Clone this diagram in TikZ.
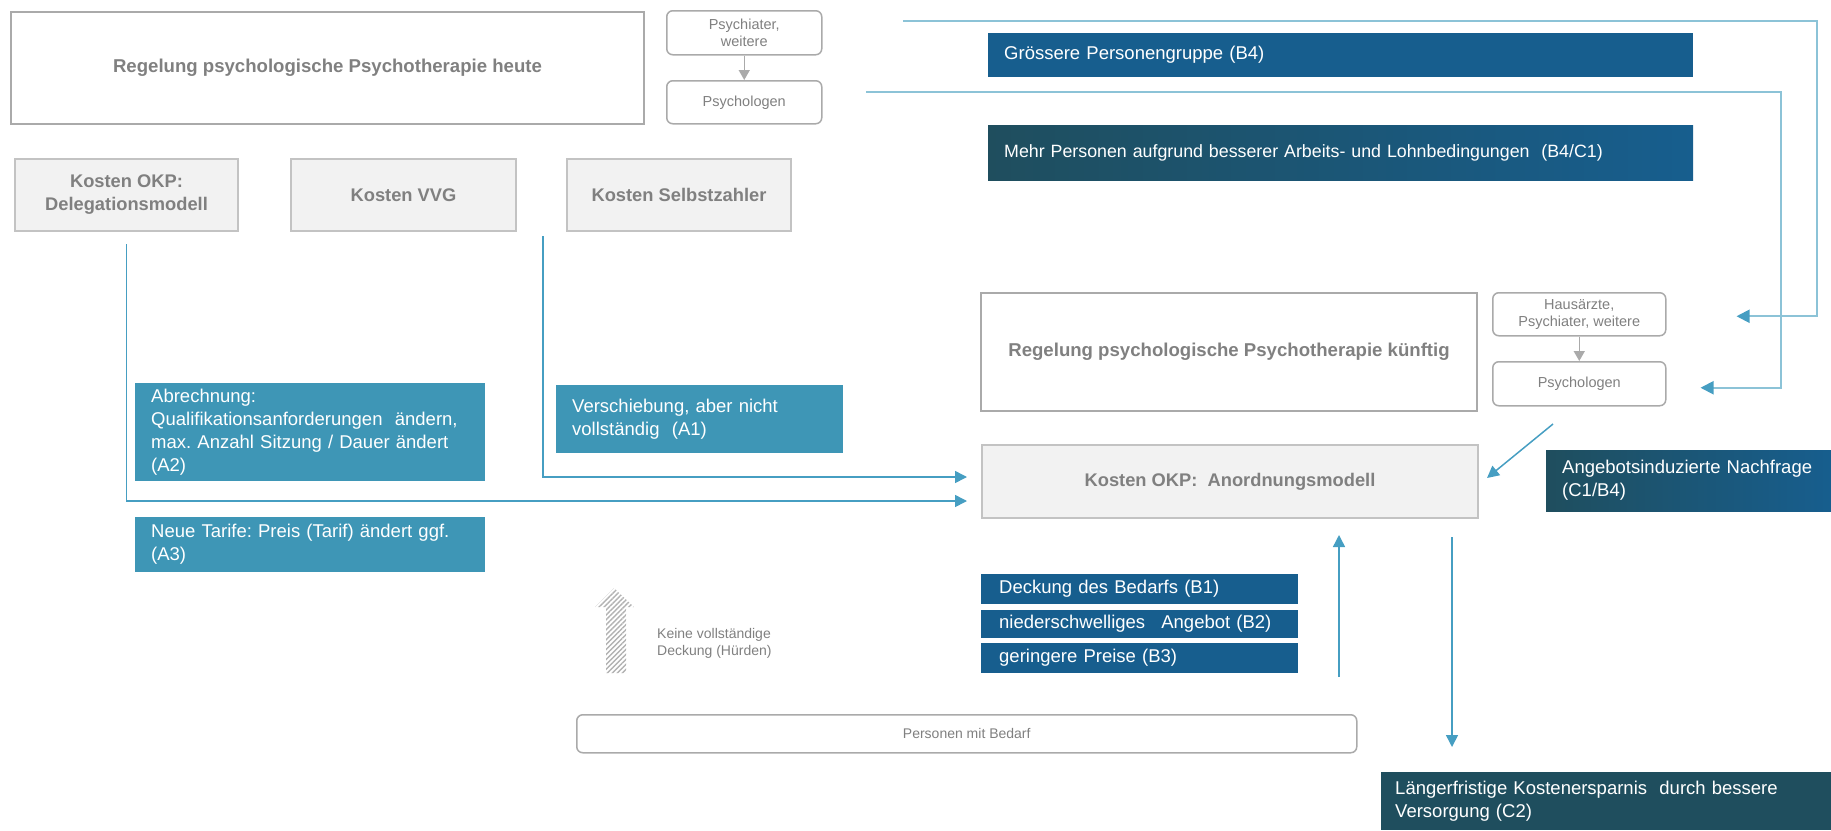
\documentclass[tikz,border=0pt]{standalone}
\usepackage{fontspec}
\setmainfont{Liberation Sans}
\usetikzlibrary{arrows.meta,patterns.meta,calc}
\frenchspacing
\definecolor{gborder}{RGB}{170,170,170}
\definecolor{gtext}{RGB}{128,128,128}
\definecolor{kfill}{RGB}{242,242,242}
\definecolor{kborder}{RGB}{195,195,195}
\definecolor{ablue}{RGB}{62,150,182}
\definecolor{bblue}{RGB}{23,94,142}
\definecolor{dteal}{RGB}{31,78,94}
\definecolor{lineblue}{RGB}{70,158,194}
\definecolor{lightline}{RGB}{140,195,215}
\begin{document}
\begin{tikzpicture}[x=1pt,y=-1pt,
  bigbox/.style={draw=gborder,line width=2pt,fill=white,text=gtext,font=\fontsize{18.6}{22}\selectfont\bfseries,anchor=north west,inner sep=0pt},
  kbox/.style={draw=kborder,line width=2pt,fill=kfill,text=gtext,font=\fontsize{18.3}{23}\selectfont\bfseries,anchor=north west,inner sep=0pt,align=center},
  rbox/.style={draw=gborder,line width=1.5pt,fill=white,rounded corners=6pt,text=gtext,font=\fontsize{14.5}{17}\selectfont,anchor=north west,inner sep=0pt,align=center},
  cbox/.style={text=white,font=\fontsize{18.5}{23}\selectfont,anchor=north west,inner xsep=16pt,inner ysep=0pt,align=left},
  abox/.style={cbox,fill=ablue},
  bbox/.style={cbox,fill=bblue},
  gbox/.style={cbox,left color=dteal,right color=bblue},
  conn/.style={draw=lineblue,line width=1.5pt,-{Triangle[length=12pt,width=12pt]}},
  lconn/.style={draw=lightline,line width=2pt,-{Triangle[length=13pt,width=13pt,color=lineblue]}},
  garrow/.style={draw=gborder,line width=1.5pt,-{Triangle[length=10pt,width=11pt]}}
]
\useasboundingbox (0,0) rectangle (1831,830);

% top left
\node[bigbox,minimum width=633pt,minimum height=112pt] (heute) at (10,11) {Regelung psychologische Psychotherapie heute};
\node[rbox,minimum width=155pt,minimum height=44pt] (psych1) at (666,10) {Psychiater,\\weitere};
\node[rbox,minimum width=155pt,minimum height=43pt] (psy1) at (666,80) {Psychologen};
\draw[garrow] (psych1.south) -- (psy1.north);

\node[kbox,minimum width=223pt,minimum height=72pt] (deleg) at (14,158) {Kosten OKP:\\Delegationsmodell};
\node[kbox,minimum width=225pt,minimum height=72pt] (vvg) at (290,158) {Kosten VVG};
\node[kbox,minimum width=224pt,minimum height=72pt] (selbst) at (566,158) {Kosten Selbstzahler};

% top right
\node[bbox,text width=673pt,minimum height=44pt] (b4) at (988,33) {Grössere Personengruppe  (B4)};
\node[gbox,font=\fontsize{17.8}{23}\selectfont,text width=673pt,minimum height=55pt] (mehr) at (988,125) {Mehr Personen aufgrund besserer Arbeits- und Lohnbedingungen\ \ (B4/C1)};

\node[bigbox,minimum width=496pt,minimum height=118pt] (kuenftig) at (980,292) {Regelung psychologische Psychotherapie künftig};
\node[rbox,minimum width=173pt,minimum height=43pt] (haus) at (1492,292) {Hausärzte,\\Psychiater, weitere};
\node[rbox,minimum width=173pt,minimum height=44pt] (psy2) at (1492,361) {Psychologen};
\draw[garrow] (haus.south) -- (psy2.north);

\node[kbox,minimum width=496pt,minimum height=73pt] (anord) at (981,444) {Kosten OKP:\ \ Anordnungsmodell};
\node[gbox,text width=253pt,minimum height=61pt] (c1b4) at (1546,450) {Angebotsinduzierte  Nachfrage\\(C1/B4)};

% A boxes
\node[abox,text width=318pt,minimum height=98pt] (a2) at (135,383) {Abrechnung:\\Qualifikationsanforderungen\ \ ändern,\\max. Anzahl Sitzung / Dauer ändert\\(A2)};
\node[abox,text width=255pt,minimum height=68pt] (a1) at (556,385) {Verschiebung, aber nicht\\vollständig\ \ (A1)};
\node[abox,text width=318pt,minimum height=55pt] (a3) at (135,517) {Neue Tarife: Preis (Tarif) ändert ggf.\\(A3)};

% B boxes
\node[bbox,inner xsep=18pt,text width=281pt,minimum height=30pt] (b1) at (981,574) {Deckung des Bedarfs (B1)};
\node[bbox,inner xsep=18pt,text width=281pt,minimum height=28pt] (b2) at (981,610) {niederschwelliges\hspace{10pt} Angebot (B2)};
\node[bbox,inner xsep=18pt,text width=281pt,minimum height=30pt] (b3) at (981,643) {geringere Preise (B3)};

\node[rbox,font=\fontsize{14}{17}\selectfont,minimum width=780pt,minimum height=38pt] (pers) at (576,714) {Personen mit Bedarf};
\node[cbox,fill=dteal,inner xsep=14pt,text width=422pt,minimum height=58pt] (c2) at (1381,772) {Längerfristige Kostenersparnis\ \ durch bessere\\Versorgung (C2)};

% hatched arrow and label
\fill[pattern={Lines[angle=45,distance=3.5pt,line width=1.4pt]},pattern color=gray!60]
  (606,673) -- (606,607) -- (595,607) -- (614,588) -- (634,607) -- (626,607) -- (626,673) -- cycle;
\node[anchor=west,align=left,text=gtext,font=\fontsize{14}{17}\selectfont,inner sep=0pt] (keine) at (657,643) {Keine vollständige\\Deckung (Hürden)};

% connectors
\draw[conn] ([yshift=-12pt]deleg.south) |- ([xshift=-14pt,yshift=-19.5pt]anord.west);
\coordinate (s1) at (543,236);
\draw[conn] (s1) |- ([xshift=-14pt,yshift=4.5pt]anord.west);

\coordinate (t1) at (903,21);
\coordinate (t2) at (1817,21);
\draw[lconn] (t1) -- (t2) |- ([xshift=70pt,yshift=-2pt]haus.east);
\coordinate (u1) at (866,92);
\coordinate (u2) at (1781,92);
\draw[lconn] (u1) -- (u2) |- ([xshift=34pt,yshift=-4pt]psy2.east);

\coordinate (d1) at (1553,424);
\draw[conn] (d1) -- ([xshift=8pt,yshift=3.5pt]anord.east);

\coordinate (up1) at (1339,677);
\coordinate (up2) at (1339,535);
\draw[conn] (up1) -- (up2);
\coordinate (dn1) at (1452,537);
\coordinate (dn2) at (1452,747);
\draw[conn] (dn1) -- (dn2);
\end{tikzpicture}
\end{document}
